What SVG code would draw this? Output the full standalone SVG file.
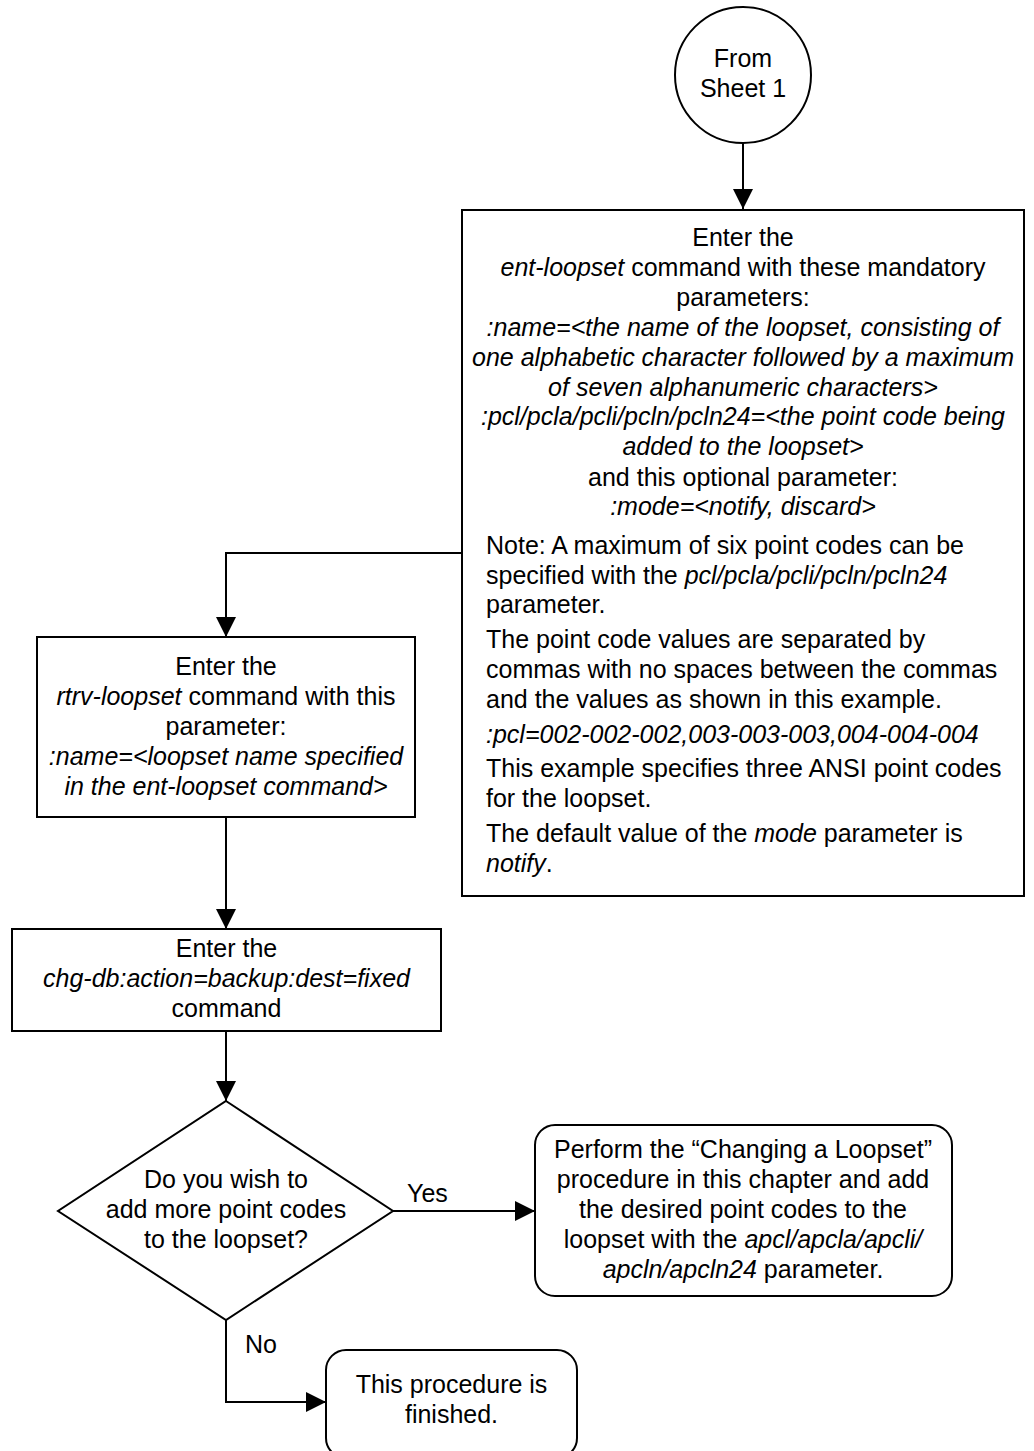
<svg xmlns="http://www.w3.org/2000/svg" width="1034" height="1451" viewBox="0 0 1034 1451">
<defs>
<style>
text{font-family:"Liberation Sans",Arial,sans-serif;font-size:25px;fill:#000}
.c{text-anchor:middle}
.i{font-style:italic}
.shape{fill:#fff;stroke:#000;stroke-width:2}
.line{fill:none;stroke:#000;stroke-width:2}
</style>
<marker id="ah" markerUnits="userSpaceOnUse" markerWidth="20" markerHeight="20" viewBox="0 0 20 20" refX="20" refY="10" orient="auto">
<path d="M0,0 L20,10 L0,20 Z" fill="#000"/>
</marker>
</defs>
<rect width="1034" height="1451" fill="#fff"/>
<g id="connectors">
<path class="line" d="M743,143 V209" marker-end="url(#ah)"/>
<path class="line" d="M462,553 H226 V637" marker-end="url(#ah)"/>
<path class="line" d="M226,817 V929" marker-end="url(#ah)"/>
<path class="line" d="M226,1031 V1101" marker-end="url(#ah)"/>
<path class="line" d="M393,1211 H535" marker-end="url(#ah)"/>
<path class="line" d="M226,1320 V1402 H326" marker-end="url(#ah)"/>
<text x="407" y="1202">Yes</text>
<text x="245" y="1353">No</text>
</g>
<g id="start">
<circle class="shape" cx="743" cy="75" r="68"/>
<text class="c" x="743" y="67">From</text>
<text class="c" x="743" y="97">Sheet 1</text>
</g>
<g id="ent-loopset">
<rect class="shape" x="462" y="210" width="562" height="686"/>
<text class="c" x="743" y="246">Enter the</text>
<text class="c" x="743" y="276"><tspan class="i">ent-loopset</tspan> command with these mandatory</text>
<text class="c" x="743" y="306">parameters:</text>
<text class="c i" x="743" y="336">:name=&lt;the name of the loopset, consisting of</text>
<text class="c i" x="743" y="366">one alphabetic character followed by a maximum</text>
<text class="c i" x="743" y="396">of seven alphanumeric characters&gt;</text>
<text class="c i" x="743" y="425">:pcl/pcla/pcli/pcln/pcln24=&lt;the point code being</text>
<text class="c i" x="743" y="455">added to the loopset&gt;</text>
<text class="c" x="743" y="486">and this optional parameter:</text>
<text class="c i" x="743" y="515">:mode=&lt;notify, discard&gt;</text>
<text x="486" y="554">Note: A maximum of six point codes can be</text>
<text x="486" y="584">specified with the <tspan class="i">pcl/pcla/pcli/pcln/pcln24</tspan></text>
<text x="486" y="613">parameter.</text>
<text x="486" y="648">The point code values are separated by</text>
<text x="486" y="678">commas with no spaces between the commas</text>
<text x="486" y="708">and the values as shown in this example.</text>
<text class="i" x="486" y="743">:pcl=002-002-002,003-003-003,004-004-004</text>
<text x="486" y="777">This example specifies three ANSI point codes</text>
<text x="486" y="807">for the loopset.</text>
<text x="486" y="842">The default value of the <tspan class="i">mode</tspan> parameter is</text>
<text x="486" y="872"><tspan class="i">notify</tspan>.</text>
</g>
<g id="rtrv-loopset">
<rect class="shape" x="37" y="637" width="378" height="180"/>
<text class="c" x="226" y="675">Enter the</text>
<text class="c" x="226" y="705"><tspan class="i">rtrv-loopset</tspan> command with this</text>
<text class="c" x="226" y="735">parameter:</text>
<text class="c i" x="226" y="765">:name=&lt;loopset name specified</text>
<text class="c i" x="226" y="795">in the ent-loopset command&gt;</text>
</g>
<g id="chg-db">
<rect class="shape" x="12" y="929" width="429" height="102"/>
<text class="c" x="226.5" y="957">Enter the</text>
<text class="c i" x="226.5" y="987">chg-db:action=backup:dest=fixed</text>
<text class="c" x="226.5" y="1017">command</text>
</g>
<g id="decision">
<path class="shape" d="M226,1101 L393,1211 L226,1320 L58,1211 Z"/>
<text class="c" x="226" y="1188">Do you wish to</text>
<text class="c" x="226" y="1218">add more point codes</text>
<text class="c" x="226" y="1248">to the loopset?</text>
</g>
<g id="changing-loopset">
<rect class="shape" x="535" y="1125" width="417" height="171" rx="20" ry="20"/>
<text class="c" x="743" y="1158">Perform the “Changing a Loopset”</text>
<text class="c" x="743" y="1188">procedure in this chapter and add</text>
<text class="c" x="743" y="1218">the desired point codes to the</text>
<text class="c" x="743" y="1248">loopset with the <tspan class="i">apcl/apcla/apcli/</tspan></text>
<text class="c" x="743" y="1278"><tspan class="i">apcln/apcln24</tspan> parameter.</text>
</g>
<g id="finished">
<rect class="shape" x="326" y="1350" width="251" height="108" rx="20" ry="20"/>
<text class="c" x="451.5" y="1393">This procedure is</text>
<text class="c" x="451.5" y="1423">finished.</text>
</g>
</svg>
